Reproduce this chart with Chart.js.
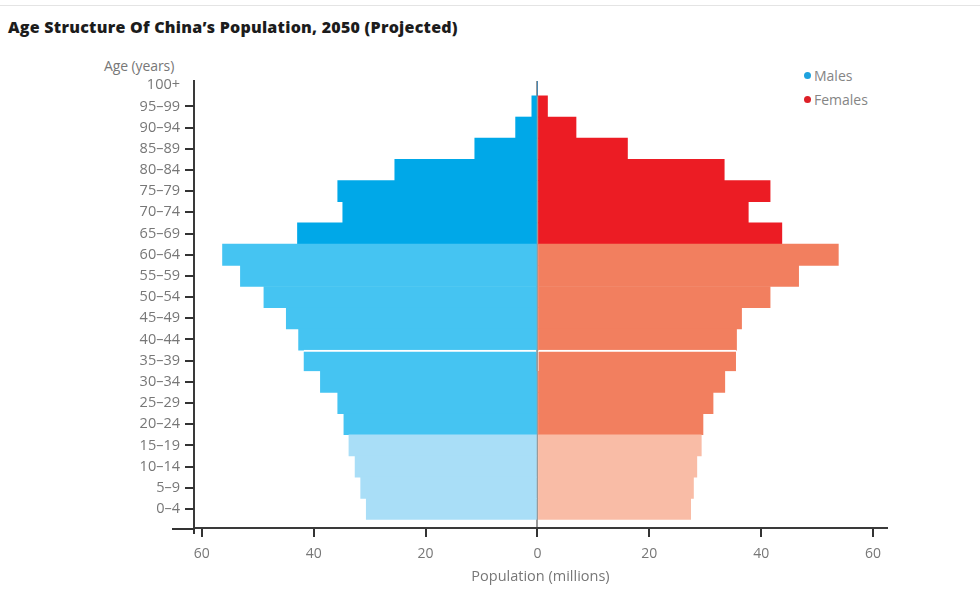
<!DOCTYPE html>
<html>
<head>
<meta charset="utf-8">
<script src="https://cdn.jsdelivr.net/npm/chart.js@4.4.1/dist/chart.umd.min.js"></script>
<style>
  html, body { margin: 0; padding: 0; background: #fff; }
  #wrap { position: relative; width: 980px; height: 592px; overflow: hidden; }
  #topline { position: absolute; left: 0; top: 5px; width: 980px; height: 1px; background: #e4e4e4; }
  #title { position: absolute; left: 8px; top: 16px; font: 800 16px "Open Sans", sans-serif; color: #1c1c1c; letter-spacing: 0.25px; white-space: nowrap; }
  #ylab { position: absolute; left: 104px; top: 56px; font: 14px "Open Sans", sans-serif; color: #777; white-space: nowrap; letter-spacing: -0.1px; }
  #legend { position: absolute; left: 804px; top: 66px; font: 14px "Open Sans", sans-serif; color: #858585; }
  #legend div { height: 24px; line-height: 20px; white-space: nowrap; }
  #legend span { display: inline-block; width: 7px; height: 7px; border-radius: 50%; margin-right: 3px; vertical-align: 2px; }
  #c { position: absolute; left: 0; top: 0; }
</style>
</head>
<body>
<div id="wrap">
  <div id="topline"></div>
  <div id="title">Age Structure Of China’s Population, 2050 (Projected)</div>
  <div id="ylab">Age (years)</div>
  <div id="legend">
    <div><span style="background:#1ea2de"></span>Males</div>
    <div><span style="background:#dd1f27"></span>Females</div>
  </div>
  <canvas id="c" width="980" height="592"></canvas>
</div>
<script>
// ---- data (top of pyramid first) ----
const ageGroups = ['100+','95–99','90–94','85–89','80–84','75–79','70–74','65–69','60–64','55–59','50–54','45–49','40–44','35–39','30–34','25–29','20–24','15–19','10–14','5–9','0–4'];
const males   = [0, 1.0, 3.9, 11.2, 25.5, 35.7, 34.8, 42.9, 56.3, 53.1, 48.9, 44.9, 42.7, 41.8, 38.8, 35.7, 34.6, 33.7, 32.6, 31.6, 30.6];
const females = [0, 1.8, 6.9, 16.1, 33.4, 41.6, 37.7, 43.7, 53.8, 46.7, 41.6, 36.5, 35.6, 35.5, 33.5, 31.4, 29.6, 29.3, 28.5, 27.9, 27.4];
const xTicks = [-60, -40, -20, 0, 20, 40, 60];

const N = ageGroups.length - 1;            // position of a group: N - index (0–4 at the bottom)
const maleColors   = ['#00a8e8', '#45c4f2', '#a9def7'];
const femaleColors = ['#ec1c24', '#f27f5f', '#f9bca6'];
function band(i) { return i <= 7 ? 0 : (i <= 16 ? 1 : 2); }

const gapBorder = ctx => ctx.dataIndex === 13 ? {top: 2, right: 0, bottom: 0, left: 0} : 0;

const axisMarks = {
  id: 'axisMarks',
  afterDatasetsDraw(chart) {
    const c = chart.ctx;
    const area = chart.chartArea;
    const bars = chart.getDatasetMeta(0).data;
    c.save();
    c.fillStyle = '#333333';
    for (let i = 1; i < bars.length; i++) {   // every group except "100+"
      const py = Math.round(bars[i].y);
      c.fillRect(area.left - 9, py - 1, 9, 2);
    }
    c.fillRect(area.left - 22, area.bottom, 22, 2);
    c.fillRect(area.left - 1, area.bottom, 2, 6);
    c.restore();
  }
};

new Chart(document.getElementById('c'), {
  type: 'bar',
  data: {
    datasets: [
      {
        label: 'Males',
        data: males.map((v, i) => ({x: -v, y: N - i})),
        backgroundColor: ctx => maleColors[band(ctx.dataIndex)],
        borderColor: '#ffffff',
        borderWidth: gapBorder,
        borderSkipped: false,
        grouped: false,
        barPercentage: 1,
        categoryPercentage: 1
      },
      {
        label: 'Females',
        data: females.map((v, i) => ({x: v, y: N - i})),
        backgroundColor: ctx => femaleColors[band(ctx.dataIndex)],
        borderColor: '#ffffff',
        borderWidth: gapBorder,
        borderSkipped: false,
        grouped: false,
        barPercentage: 1,
        categoryPercentage: 1
      }
    ]
  },
  options: {
    indexAxis: 'y',
    responsive: false,
    animation: false,
    devicePixelRatio: 1,
    layout: { padding: { left: 0, right: 93, top: 81, bottom: 0 } },
    plugins: { legend: { display: false }, tooltip: { enabled: false } },
    scales: {
      x: {
        type: 'linear',
        min: -61.4,
        max: 62.5,
        bounds: 'data',
        offset: false,
        z: 1,
        afterFit: s => { s.height = 64; },
        afterBuildTicks: s => { s.ticks = xTicks.map(v => ({value: v})); },
        ticks: {
          includeBounds: false,
          callback: v => Math.abs(v),
          color: '#777',
          padding: 9,
          font: { family: 'Open Sans', size: 14 },
          maxRotation: 0
        },
        grid: {
          offset: false,
          drawOnChartArea: true,
          color: ctx => (ctx.tick && ctx.tick.value === 0) ? '#9a9a9a' : 'rgba(0,0,0,0)',
          lineWidth: 2,
          tickColor: '#333',
          tickWidth: 2,
          tickLength: 9
        },
        border: { display: true, color: '#3a3a3a', width: 2 },
        title: {
          display: true,
          text: 'Population (millions)',
          color: '#777',
          font: { family: 'Open Sans', size: 14.5 },
          padding: { top: 0, bottom: 6 }
        }
      },
      y: {
        type: 'linear',
        min: -0.9,
        max: N + 0.2,
        bounds: 'data',
        offset: false,
        afterFit: s => { s.width = 194; },
        afterBuildTicks: s => { s.ticks = ageGroups.map((a, i) => ({value: i})); },
        ticks: {
          includeBounds: false,
          autoSkip: false,
          callback: v => ageGroups[N - v] !== undefined ? ageGroups[N - v] : '',
          color: '#777',
          padding: 14,
          font: { family: 'Open Sans', size: 14.5 }
        },
        grid: { display: false, drawTicks: false, tickLength: 0 },
        border: { display: true, color: '#3a3a3a', width: 2 }
      }
    }
  },
  plugins: [axisMarks]
});
</script>
</body>
</html>
